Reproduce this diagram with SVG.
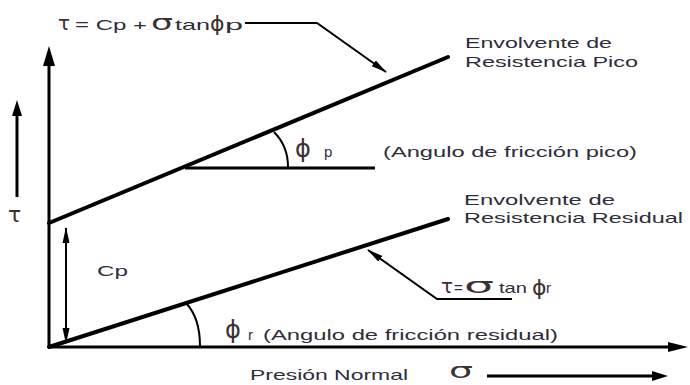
<svg xmlns="http://www.w3.org/2000/svg" width="690" height="385" viewBox="0 0 690 385">
<style>
.t{font-family:"Liberation Sans",Arial,sans-serif;font-size:15px;fill:#2e2e3a}
.g{font-family:"DejaVu Sans","Liberation Serif",serif;fill:#3a3030}
.ax{stroke:#000;stroke-width:3;fill:none}
.env{stroke:#000;stroke-width:4;fill:none;stroke-linecap:round}
.thin{stroke:#000;stroke-width:2;fill:none}
</style>
<defs>
<marker id="ah" viewBox="0 0 16 8" refX="15" refY="4" markerWidth="16" markerHeight="8" orient="auto-start-reverse" markerUnits="userSpaceOnUse">
<path d="M0,0.5 L16,4 L0,7.5 z" fill="#000"/>
</marker>
</defs>
<g id="axes">
<line class="ax" x1="49" y1="347" x2="49" y2="60"/>
<path d="M43,66 L49,46 L55,66 z" fill="#000"/>
<line class="ax" x1="48" y1="347" x2="672" y2="347"/>
<path d="M668,342 L688,347 L668,352 z" fill="#000"/>
</g>
<g id="peak-envelope">
<line class="env" x1="49" y1="223" x2="448" y2="57"/>
<line class="ax" x1="185" y1="168" x2="375" y2="168"/>
<path class="thin" d="M274,132 Q288,146 288,167"/>
</g>
<g id="residual-envelope">
<line class="env" x1="49" y1="347" x2="448" y2="219"/>
<path class="thin" d="M186,303 Q200,318 200,346"/>
</g>
<g id="connectors">
<path class="thin" d="M245,23 L317,23 L386,72" marker-end="url(#ah)"/>
<path class="thin" d="M512,299 L437,299 L368,250" marker-end="url(#ah)"/>
<line class="thin" x1="66" y1="228" x2="66" y2="343" marker-start="url(#ah)" marker-end="url(#ah)"/>
<line x1="17" y1="197" x2="17" y2="110" stroke="#000" stroke-width="3"/>
<path d="M12,116 L17,100 L22,116 z" fill="#000"/>
<line x1="487" y1="376" x2="660" y2="376" stroke="#000" stroke-width="3"/>
<path d="M652,371 L668,376 L652,381 z" fill="#000"/>
</g>
<g id="formula-peak">
<text class="g" x="58" y="30" font-size="20">τ</text>
<text class="t" x="75" y="30" font-size="14" textLength="72" lengthAdjust="spacingAndGlyphs">= Cp +</text>
<text class="g" x="151" y="30" font-size="22" textLength="22" lengthAdjust="spacingAndGlyphs">σ</text>
<text class="t" x="175" y="30" font-size="14" textLength="35" lengthAdjust="spacingAndGlyphs">tan</text>
<text class="g" x="210" y="31" font-size="22">ϕ</text>
<text class="t" x="225" y="30" font-size="14" textLength="18" lengthAdjust="spacingAndGlyphs">p</text>
</g>
<g id="label-peak">
<text class="t" x="465" y="48" textLength="147" lengthAdjust="spacingAndGlyphs">Envolvente de</text>
<text class="t" x="465" y="67" textLength="173" lengthAdjust="spacingAndGlyphs">Resistencia Pico</text>
</g>
<g id="angle-peak">
<text class="g" x="295" y="157" font-size="24">ϕ</text>
<text class="t" x="324" y="157" font-size="14">p</text>
<text class="t" x="383" y="157" font-size="14" textLength="254" lengthAdjust="spacingAndGlyphs">(Angulo de fricción pico)</text>
</g>
<g id="label-residual">
<text class="t" x="464" y="205" textLength="151" lengthAdjust="spacingAndGlyphs">Envolvente de</text>
<text class="t" x="464" y="223" textLength="219" lengthAdjust="spacingAndGlyphs">Resistencia Residual</text>
</g>
<g id="formula-residual">
<text class="g" x="441" y="293" font-size="20">τ</text>
<text class="t" x="454" y="293" font-size="14">=</text>
<text class="g" x="464" y="293" font-size="22" textLength="30" lengthAdjust="spacingAndGlyphs">σ</text>
<text class="t" x="499" y="293" font-size="14" textLength="28" lengthAdjust="spacingAndGlyphs">tan</text>
<text class="g" x="532" y="295" font-size="22">ϕ</text>
<text class="t" x="546" y="293" font-size="14">r</text>
</g>
<g id="angle-residual">
<text class="g" x="225" y="338" font-size="24">ϕ</text>
<text class="t" x="248" y="340" font-size="14">r</text>
<text class="t" x="263" y="340" font-size="14" textLength="295" lengthAdjust="spacingAndGlyphs">(Angulo de fricción residual)</text>
</g>
<g id="cp-label">
<text class="t" x="97" y="276" textLength="31" lengthAdjust="spacingAndGlyphs">Cp</text>
</g>
<g id="tau-label">
<text class="g" x="8" y="222" font-size="22">τ</text>
</g>
<g id="x-label">
<text class="t" x="250" y="380" font-size="14" textLength="158" lengthAdjust="spacingAndGlyphs">Presión Normal</text>
<text class="g" x="449" y="378" font-size="22" textLength="24" lengthAdjust="spacingAndGlyphs">σ</text>
</g>
</svg>
